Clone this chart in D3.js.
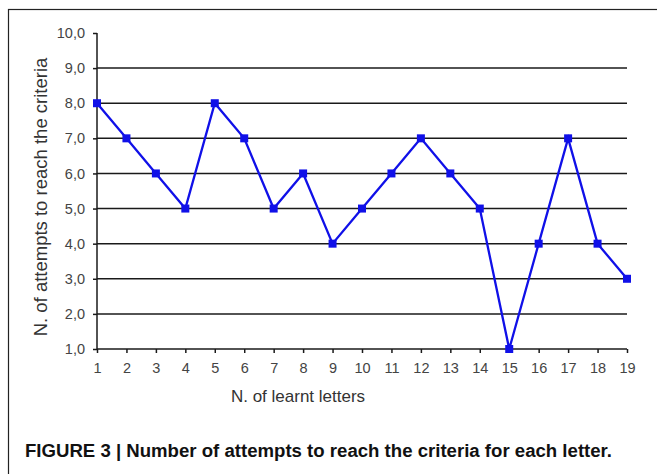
<!DOCTYPE html>
<html><head><meta charset="utf-8">
<script src="https://cdn.jsdelivr.net/npm/d3@7"></script>
<style>body{margin:0;background:#fff}svg{display:block}</style>
</head><body>
<script>
const letters = [1,2,3,4,5,6,7,8,9,10,11,12,13,14,15,16,17,18,19];
const attempts = [8,7,6,5,8,7,5,6,4,5,6,7,6,5,1,4,7,4,3];
const yTicks = [1,2,3,4,5,6,7,8,9,10];
const yLabel = "N. of attempts to reach the criteria";
const xLabel = "N. of learnt letters";
const caption = "FIGURE 3 | Number of attempts to reach the criteria for each letter.";

const W = 657, H = 474;
const FONT = "Liberation Sans, Arial, sans-serif";
const svg = d3.select("body").append("svg").attr("width", W).attr("height", H);

// frame
svg.append("rect").attr("x", 8.5).attr("y", 9.5).attr("width", 660).attr("height", 480)
  .attr("fill", "none").attr("stroke", "#222").attr("stroke-width", 1.2);

const x = d3.scaleLinear().domain([1, 19]).range([97, 627]);
const y = d3.scaleLinear().domain([1, 10]).range([349, 33]);

// gridlines
svg.append("g").selectAll("line").data(yTicks.filter(d => d > 1 && d < 10)).join("line")
  .attr("x1", x(1)).attr("x2", x(19)).attr("y1", d => y(d)).attr("y2", d => y(d))
  .attr("stroke", "#1a1a1a").attr("stroke-width", 1.5);

const fmt = d => d3.format(".1f")(d).replace(".", ",");
const yAxis = svg.append("g").attr("transform", `translate(${x(1)},0)`)
  .call(d3.axisLeft(y).tickValues(yTicks).tickFormat(fmt).tickSize(4).tickPadding(8));
const xAxis = svg.append("g").attr("transform", `translate(0,${y(1)})`)
  .call(d3.axisBottom(x).tickValues(letters).tickFormat(d3.format("d")).tickSize(4).tickPadding(10));
[yAxis, xAxis].forEach(a => {
  a.select(".domain").attr("stroke", "#1a1a1a").attr("stroke-width", 1.5);
  a.selectAll(".tick line").attr("stroke", "#1a1a1a").attr("stroke-width", 1.5);
  a.selectAll("text").attr("font-family", FONT)
    .attr("font-size", 14.5).attr("fill", "#444");
});
xAxis.select(".domain").attr("d", `M${x(1)},0H${x(19)}`);
yAxis.select(".domain").attr("d", `M0,${y(10)}V${y(1)}`);

// line
const pts = letters.map((d, i) => [d, attempts[i]]);
svg.append("path").datum(pts)
  .attr("fill", "none").attr("stroke", "#1010e8").attr("stroke-width", 2.3)
  .attr("d", d3.line().x(d => x(d[0])).y(d => y(d[1])));
svg.append("g").selectAll("rect").data(pts).join("rect")
  .attr("x", d => x(d[0]) - 4).attr("y", d => y(d[1]) - 4)
  .attr("width", 8).attr("height", 8).attr("fill", "#1010e8");

// labels
svg.append("text").attr("transform", `translate(47,197) rotate(-90)`)
  .attr("text-anchor", "middle").attr("font-family", FONT)
  .attr("font-size", 18.5).attr("fill", "#333").text(yLabel);
svg.append("text").attr("x", 298).attr("y", 402).attr("text-anchor", "middle")
  .attr("font-family", FONT)
  .attr("font-size", 17).attr("fill", "#333").text(xLabel);
svg.append("text").attr("x", 25).attr("y", 457)
  .attr("font-family", FONT).attr("font-weight", "bold")
  .attr("font-size", 17.5).attr("textLength", 587).attr("lengthAdjust", "spacingAndGlyphs")
  .attr("fill", "#111").text(caption);
</script>
</body></html>
